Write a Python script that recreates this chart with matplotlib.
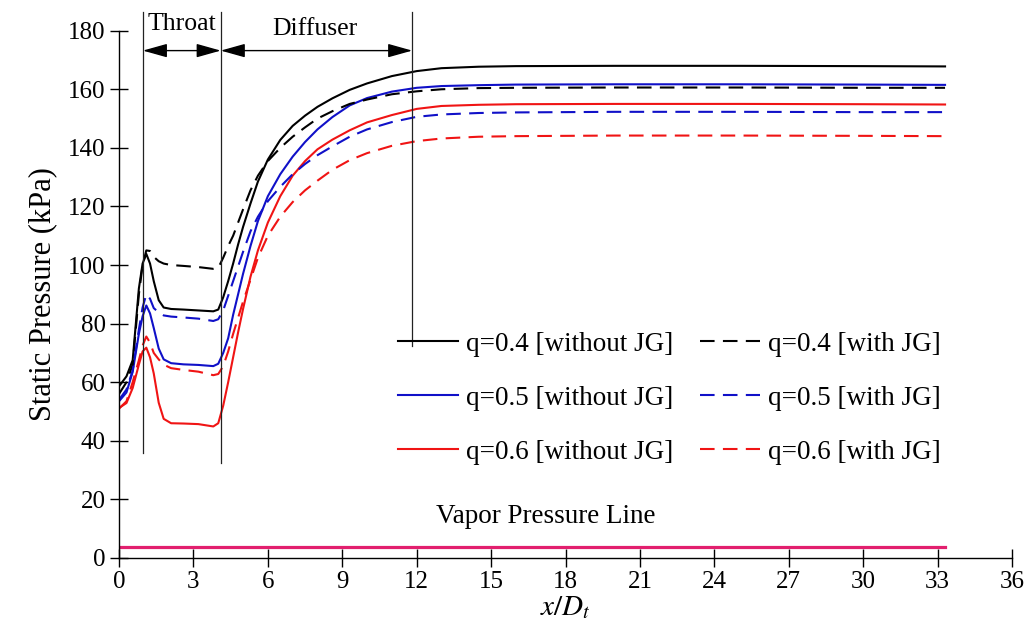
import matplotlib
matplotlib.use("Agg")
import matplotlib.pyplot as plt

plt.rcParams['font.family'] = ['Liberation Serif', 'DejaVu Serif']
plt.rcParams['mathtext.fontset'] = 'stix'

# ---------------- data ----------------
x_pos = [0, 0.3, 0.55, 0.8, 0.95, 1.1, 1.25, 1.4, 1.6, 1.8, 2.1, 2.6, 3.2, 3.8, 4.0,
         4.2, 4.4, 4.6, 4.8, 5.0, 5.3, 5.6, 6.0, 6.5, 7.0, 7.5, 8.0, 8.6, 9.3, 10.0,
         11.0, 12.0, 13.0, 14.5, 16.0, 20.0, 25.0, 30.0, 33.3]

p_q04_without = [58.6, 62.0, 67.5, 92.0, 100.5, 103.8, 100.5, 94.5, 88.0, 85.5, 85.0, 84.8, 84.5, 84.2, 84.8,
                 89, 94.5, 100.5, 107, 113, 121, 128.5, 136, 142.7, 147.5, 151, 154, 156.9, 159.8, 162,
                 164.5, 166.2, 167.2, 167.7, 167.9, 168, 168, 167.9, 167.8]
p_q04_with = [56, 60, 66, 90, 100, 105, 104.8, 102.8, 101.3, 100.5, 100, 99.7, 99.3, 98.7, 99,
              102.5, 106.5, 110, 114.5, 119, 125.5, 130.5, 135.5, 140, 143.8, 147, 150, 152.5, 155, 156.5,
              158.3, 159.3, 160, 160.4, 160.5, 160.6, 160.6, 160.5, 160.5]
p_q05_without = [53.5, 56.5, 63.5, 76.5, 82.5, 86.2, 83.5, 78.5, 71.5, 67.8, 66.5, 66.1, 65.9, 65.5, 66.3,
                 70, 75, 83, 90, 97, 106.5, 115, 123.5, 131, 137, 142, 146.3, 150.5, 154.5, 157,
                 159.2, 160.5, 161.1, 161.4, 161.6, 161.7, 161.7, 161.6, 161.5]
p_q05_with = [54, 57.5, 64, 78, 85.5, 90, 88.5, 85.3, 83.8, 82.8, 82.4, 82.1, 81.7, 80.9, 81.5,
              84.5, 89.5, 94.5, 99.5, 104.5, 111.5, 116.5, 121.8, 126.7, 131, 134.5, 137.5, 140.5, 143.8, 146.3,
              148.8, 150.6, 151.4, 151.9, 152.1, 152.3, 152.3, 152.2, 152.2]
p_q06_without = [51.2, 52.9, 58, 66, 70.5, 71.8, 68.5, 63, 53, 47.5, 46, 45.9, 45.7, 44.9, 46,
                 52, 60, 68.5, 77, 85, 96, 105, 114.5, 123.5, 130.5, 135.5, 139.5, 142.8, 146, 148.7,
                 151.2, 153.3, 154.3, 154.7, 154.9, 155, 155, 154.9, 154.8]
p_q06_with = [51, 53.5, 60, 67.5, 72.5, 75.6, 73.5, 70, 67.8, 66, 64.8, 64.2, 63.6, 62.4, 62.8,
              65.5, 70.5, 76.5, 82, 87.5, 95, 102.5, 110, 116.5, 121.5, 125.5, 128.8, 132.5, 135.8, 138.2,
              140.7, 142.3, 143.2, 143.8, 144, 144.2, 144.2, 144.1, 144]

vapor_x = [0, 33.3]
vapor_p = [3.8, 3.8]

labels = ["q=0.4 [without JG]", "q=0.5 [without JG]", "q=0.6 [without JG]",
          "q=0.4 [with JG]", "q=0.5 [with JG]", "q=0.6 [with JG]"]

x_ticks = [0, 3, 6, 9, 12, 15, 18, 21, 24, 27, 30, 33, 36]
y_ticks = [0, 20, 40, 60, 80, 100, 120, 140, 160, 180]

throat_start, throat_end, diffuser_end = 0.96, 4.1, 11.82

# ---------------- figure ----------------
fig = plt.figure(figsize=(10.35, 6.3), dpi=100)
ax = fig.add_axes([0.115, 0.1143, 0.8628, 0.837])

BLACK, BLUE, RED = '#000000', '#1010C8', '#F01414'
dash = (0, (7, 4))
lw = 1.5

h1, = ax.plot(x_pos, p_q04_without, color=BLACK, lw=lw)
h2, = ax.plot(x_pos, p_q05_without, color=BLUE, lw=lw)
h3, = ax.plot(x_pos, p_q06_without, color=RED, lw=lw)
h4, = ax.plot(x_pos, p_q04_with, color=BLACK, lw=lw, linestyle=dash)
h5, = ax.plot(x_pos, p_q05_with, color=BLUE, lw=lw, linestyle=dash)
h6, = ax.plot(x_pos, p_q06_with, color=RED, lw=lw, linestyle=dash)

ax.plot(vapor_x, vapor_p, color='#E21F6E', lw=2.3)

ax.set_xlim(0, 36)
ax.set_ylim(0, 180)
ax.set_xticks(x_ticks)
ax.set_yticks(y_ticks)
for s in ['top', 'right']:
    ax.spines[s].set_visible(False)
for s in ['left', 'bottom']:
    ax.spines[s].set_linewidth(1.0)
ax.tick_params(axis='both', direction='inout', length=13, width=1.0, labelsize=18, pad=3)

ax.set_xlabel(r'$x/D_t$', fontsize=21, labelpad=1)
ax.set_ylabel('Static Pressure (kPa)', fontsize=22, labelpad=8)

# region markers
ax.plot([throat_start, throat_start], [186.5, 35.9], color='#222222', lw=0.9, clip_on=False)
ax.plot([throat_end, throat_end], [186.5, 32.5], color='#222222', lw=0.9, clip_on=False)
ax.plot([diffuser_end, diffuser_end], [186.5, 72.5], color='#222222', lw=0.9, clip_on=False)

arrow_kw = dict(arrowstyle='<|-|>,head_length=1.5,head_width=0.42', color='black', lw=1.0,
                shrinkA=0, shrinkB=0, mutation_scale=10)
ax.annotate('', xy=(throat_end, 173.2), xytext=(throat_start, 173.2),
            arrowprops=arrow_kw, annotation_clip=False)
ax.annotate('', xy=(diffuser_end, 173.2), xytext=(throat_end, 173.2),
            arrowprops=arrow_kw, annotation_clip=False)
ax.text((throat_start + throat_end) / 2, 182.3, 'Throat', fontsize=18.5, ha='center', va='center',
        clip_on=False)
ax.text(7.9, 180.6, 'Diffuser', fontsize=18.5, ha='center', va='center', clip_on=False)

ax.text(17.2, 14.3, 'Vapor Pressure Line', fontsize=19.5, ha='center', va='center')

leg = ax.legend([h1, h2, h3, h4, h5, h6], labels, ncol=2, loc='center',
                bbox_to_anchor=(22.2, 54.6), bbox_transform=ax.transData,
                frameon=False, fontsize=19.5, handlelength=2.2, handletextpad=0.3,
                columnspacing=1.0, labelspacing=1.07, borderpad=0, borderaxespad=0)

fig.savefig('out.png', dpi=100)
